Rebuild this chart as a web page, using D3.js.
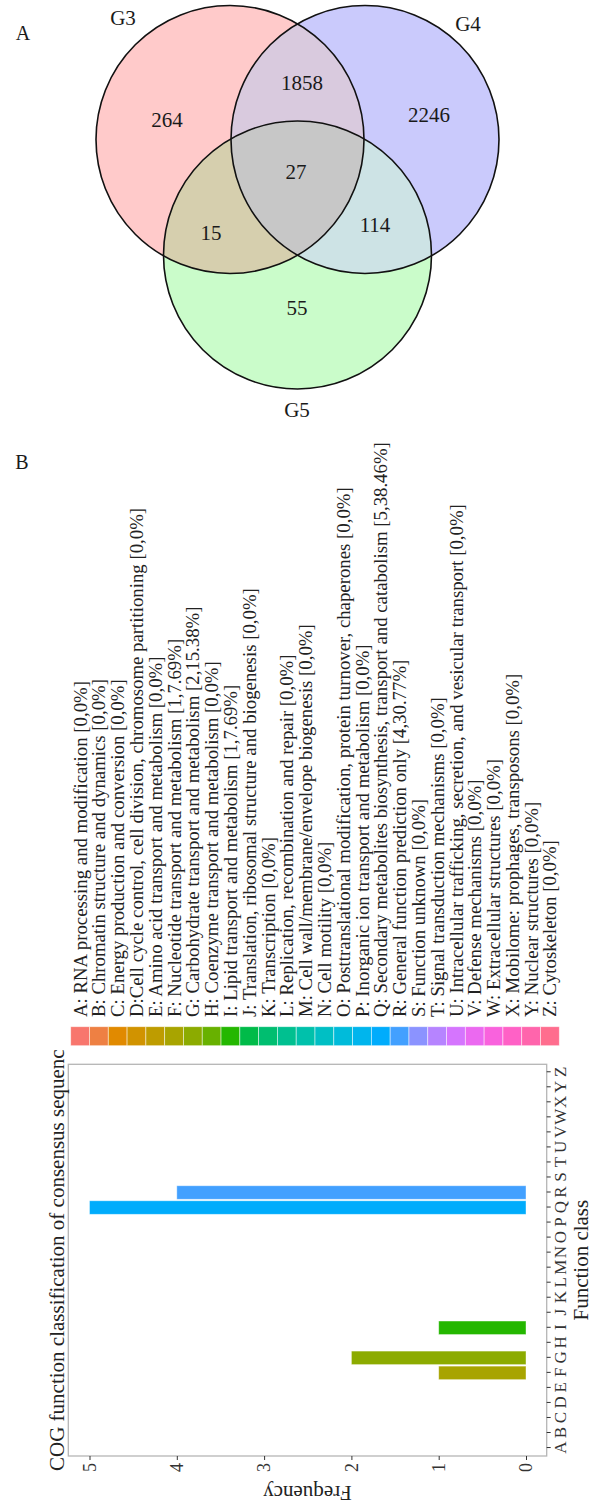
<!DOCTYPE html>
<html>
<head>
<meta charset="utf-8">
<script src="https://cdn.jsdelivr.net/npm/d3@7"></script>
<style>
  body { margin: 0; background: #fff; }
  svg { display: block; }
  text { font-family: "Liberation Serif", "Times New Roman", serif; }
</style>
</head>
<body>
<svg id="fig" width="601" height="1504"></svg>
<script>
// ---- data: Venn (panel A) ----
const setNames = ['G3', 'G4', 'G5'];
const onlyCounts = [264, 2246, 55];
const pairSets = [['G3', 'G4'], ['G3', 'G5'], ['G4', 'G5']];
const pairCounts = [1858, 15, 114];
const tripleCount = 27;

// ---- data: COG classes (panel B) ----
const cogCodes = ['A','B','C','D','E','F','G','H','I','J','K','L','M','N','O','P','Q','R','S','T','U','V','W','X','Y','Z'];
const cogNames = [
  'A: RNA processing and modification',
  'B: Chromatin structure and dynamics',
  'C: Energy production and conversion',
  'D:Cell cycle control, cell division, chromosome partitioning',
  'E: Amino acid transport and metabolism',
  'F: Nucleotide transport and metabolism',
  'G: Carbohydrate transport and metabolism',
  'H: Coenzyme transport and metabolism',
  'I: Lipid transport and metabolism',
  'J: Translation, ribosomal structure and biogenesis',
  'K: Transcription',
  'L: Replication, recombination and repair',
  'M: Cell wall/membrane/envelope biogenesis',
  'N: Cell motility',
  'O: Posttranslational modification, protein turnover, chaperones',
  'P: Inorganic ion transport and metabolism',
  'Q: Secondary metabolites biosynthesis, transport and catabolism',
  'R: General function prediction only',
  'S: Function unknown',
  'T: Signal transduction mechanisms',
  'U: Intracellular trafficking, secretion, and vesicular transport',
  'V: Defense mechanisms',
  'W: Extracellular structures',
  'X: Mobilome: prophages, transposons',
  'Y: Nuclear structures',
  'Z: Cytoskeleton'
];
const cogCounts = [0,0,0,0,0,1,2,0,1,0,0,0,0,0,0,0,5,4,0,0,0,0,0,0,0,0];
const freqTicks = [0, 1, 2, 3, 4, 5];

// ggplot-like hue palette (polar Luv -> sRGB)
function hclLuv(h, c, l) {
  const hr = h * Math.PI / 180;
  const u = c * Math.cos(hr), v = c * Math.sin(hr);
  const Xn = 95.047, Yn = 100, Zn = 108.883;
  const den = Xn + 15 * Yn + 3 * Zn;
  const un = 4 * Xn / den, vn = 9 * Yn / den;
  const Y = l > 8 ? Yn * Math.pow((l + 16) / 116, 3) : Yn * l / 903.3;
  const up = u / (13 * l) + un, vp = v / (13 * l) + vn;
  const X = 9 * Y * up / (4 * vp), Z = Y * (12 - 3 * up - 20 * vp) / (4 * vp);
  const x = X / 100, y = Y / 100, z = Z / 100;
  const lin = [
    3.240479 * x - 1.537150 * y - 0.498535 * z,
    -0.969256 * x + 1.875992 * y + 0.041556 * z,
    0.055648 * x - 0.204043 * y + 1.057311 * z
  ];
  const rgb = lin.map(t => {
    t = t <= 0.0031308 ? 12.92 * t : 1.055 * Math.pow(t, 1 / 2.4) - 0.055;
    return Math.round(Math.max(0, Math.min(1, t)) * 255);
  });
  return d3.rgb(rgb[0], rgb[1], rgb[2]).formatHex();
}
const cogColors = cogCodes.map((d, i) => hclLuv(15 + i * 360 / cogCodes.length, 100, 65));

const svg = d3.select('#fig');

// ================= Panel A: Venn =================
const vennFill = { G3: '#ffcaca', G4: '#cacafc', G5: '#cafcca' };
const pairFill = ['#d9cade', '#d6cfae', '#cde3e5'];
const tripleFill = '#c7c7c7';
const R = 134;
const circles = [
  { name: 'G3', cx: 230, cy: 139.5 },
  { name: 'G4', cx: 365, cy: 139.5 },
  { name: 'G5', cx: 297.5, cy: 255 }
];
const byName = {};
circles.forEach(c => byName[c.name] = c);

const defs = svg.append('defs');
circles.forEach(c => {
  defs.append('clipPath').attr('id', 'clip-' + c.name)
    .append('circle').attr('cx', c.cx).attr('cy', c.cy).attr('r', R);
});

const venn = svg.append('g');
venn.selectAll('circle.fill').data(circles).join('circle')
  .attr('class', 'fill')
  .attr('cx', d => d.cx).attr('cy', d => d.cy).attr('r', R)
  .attr('fill', d => vennFill[d.name]);

pairSets.forEach((p, i) => {
  const b = byName[p[1]];
  venn.append('circle')
    .attr('clip-path', `url(#clip-${p[0]})`)
    .attr('cx', b.cx).attr('cy', b.cy).attr('r', R)
    .attr('fill', pairFill[i]);
});

venn.append('g').attr('clip-path', 'url(#clip-G3)')
  .append('circle')
  .attr('clip-path', 'url(#clip-G4)')
  .attr('cx', byName.G5.cx).attr('cy', byName.G5.cy).attr('r', R)
  .attr('fill', tripleFill);

venn.selectAll('circle.edge').data(circles).join('circle')
  .attr('class', 'edge')
  .attr('cx', d => d.cx).attr('cy', d => d.cy).attr('r', R)
  .attr('fill', 'none').attr('stroke', '#111').attr('stroke-width', 1.6);

// label spots
const onlyPos = [[167, 120], [429, 115], [297, 308]];
const pairPos = [[302, 83], [211, 233], [375, 225]];
const triplePos = [296, 172];
const setLabelPos = [[123, 18], [468, 24], [297, 410]];

const vennLabels = []
  .concat(onlyCounts.map((v, i) => ({ t: v, p: onlyPos[i] })))
  .concat(pairCounts.map((v, i) => ({ t: v, p: pairPos[i] })))
  .concat([{ t: tripleCount, p: triplePos }])
  .concat(setNames.map((v, i) => ({ t: v, p: setLabelPos[i] })));

venn.selectAll('text.vl').data(vennLabels).join('text')
  .attr('class', 'vl')
  .attr('x', d => d.p[0]).attr('y', d => d.p[1])
  .attr('dy', '0.35em').attr('text-anchor', 'middle')
  .attr('fill', '#1a1a1a').style('font-size', '21px')
  .text(d => d.t);

svg.append('text').attr('x', 23).attr('y', 33).attr('dy', '0.35em')
  .attr('text-anchor', 'middle').style('font-size', '20px').attr('fill', '#1a1a1a').text('A');
svg.append('text').attr('x', 22).attr('y', 462).attr('dy', '0.35em')
  .attr('text-anchor', 'middle').style('font-size', '20px').attr('fill', '#1a1a1a').text('B');

// ================= Panel B: COG bar chart (drawn upright, turned -90deg) =================
const chart = svg.append('g').attr('transform', 'translate(0,1504) rotate(-90)');

const panel = { left: 48, right: 439.7, top: 68.3, bottom: 546.7 };
const total = d3.sum(cogCounts);

const x = d3.scalePoint().domain(cogCodes).range([panel.left, panel.right]).padding(0.53);
const y = d3.scaleLinear().domain([0, 5]).range([526, 89.5]);
const barW = x.step() * 0.9;

// panel border
chart.append('rect')
  .attr('x', panel.left).attr('y', panel.top)
  .attr('width', panel.right - panel.left).attr('height', panel.bottom - panel.top)
  .attr('fill', 'none').attr('stroke', '#b5b5b5').attr('stroke-width', 1.3);

// bars
chart.selectAll('rect.bar').data(cogCodes.map((c, i) => ({ c, v: cogCounts[i], col: cogColors[i] })).filter(d => d.v > 0))
  .join('rect')
  .attr('class', 'bar')
  .attr('x', d => x(d.c) - barW / 2)
  .attr('y', d => y(d.v))
  .attr('width', barW)
  .attr('height', d => y(0) - y(d.v))
  .attr('fill', d => d.col)
  .attr('stroke', '#ffffff').attr('stroke-opacity', 0.5).attr('stroke-width', 0.8);

// frequency axis
const yAxis = chart.append('g')
  .attr('transform', `translate(${panel.left},0)`)
  .call(d3.axisLeft(y).tickValues(freqTicks).tickFormat(d3.format('d')).tickSize(4).tickPadding(3));
yAxis.select('.domain').remove();
yAxis.selectAll('line').attr('stroke', '#333');
yAxis.selectAll('text').attr('fill', '#333').style('font-size', '18px')
  .style('font-family', '"Liberation Serif", serif');

// class axis
const xAxis = chart.append('g')
  .attr('transform', `translate(0,${panel.bottom})`)
  .call(d3.axisBottom(x).tickSize(4).tickPadding(3));
xAxis.select('.domain').remove();
xAxis.selectAll('line').attr('stroke', '#333');
xAxis.selectAll('text').attr('fill', '#333').style('font-size', '17px')
  .style('font-family', '"Liberation Serif", serif');

// axis titles
chart.append('text')
  .attr('x', (panel.left + panel.right) / 2).attr('y', 588)
  .attr('text-anchor', 'middle').attr('fill', '#222').style('font-size', '21px')
  .text('Function class');
chart.append('text')
  .attr('transform', `translate(18,${(panel.top + panel.bottom) / 2}) rotate(-90)`)
  .attr('text-anchor', 'middle').attr('fill', '#222').style('font-size', '21px')
  .text('Frequency');
chart.append('text')
  .attr('x', 33).attr('y', 63.5)
  .attr('fill', '#222').style('font-size', '21px')
  .text('COG function classification of consensus sequenc');

// legend
const key = d3.scaleBand().domain(cogCodes).range([70.7, 559.3]);
chart.selectAll('rect.key').data(cogCodes).join('rect')
  .attr('class', 'key')
  .attr('x', 458.3).attr('y', d => key(d))
  .attr('width', 19).attr('height', key.bandwidth())
  .attr('fill', (d, i) => cogColors[i])
  .attr('stroke', '#ffffff').attr('stroke-opacity', 0.6).attr('stroke-width', 0.8);

chart.selectAll('text.key').data(cogCodes).join('text')
  .attr('class', 'key')
  .attr('x', 487).attr('y', d => key(d) + key.bandwidth() / 2)
  .attr('dy', '0.35em').attr('fill', '#222').style('font-size', '18.8px')
  .text((d, i) => {
    const n = cogCounts[i];
    const pct = n === 0 ? '0' : (n / total * 100).toFixed(2);
    return `${cogNames[i]} [${n},${pct}%]`;
  });
</script>
</body>
</html>
